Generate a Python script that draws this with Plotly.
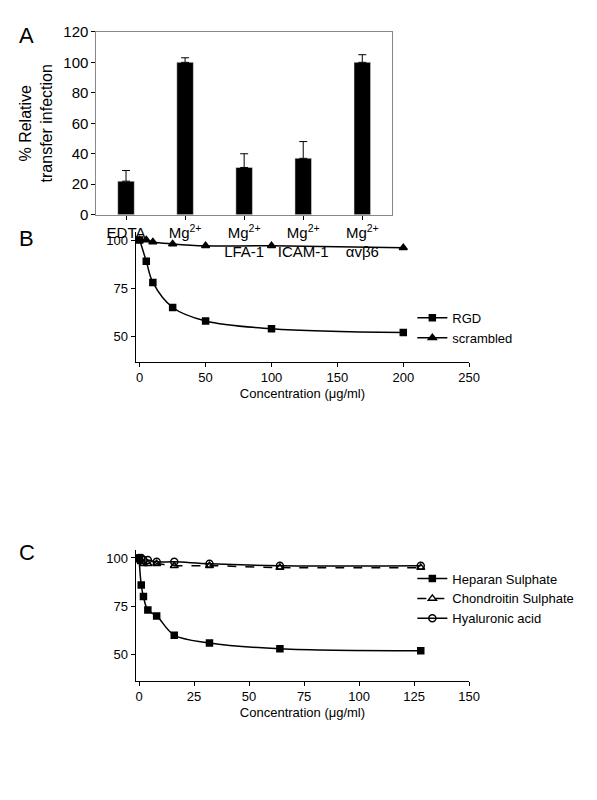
import plotly.graph_objects as go

cats = ["EDTA", "Mg<sup>2+</sup>", "Mg<sup>2+</sup><br>LFA-1", "Mg<sup>2+</sup><br>ICAM-1", "Mg<sup>2+</sup><br>αvβ6"]
bar_vals = [22, 100, 31, 37, 100]
bar_err = [7, 3, 9, 11, 5]

b_x = [0, 5, 10, 25, 50, 100, 200]
rgd = [100, 89, 78, 65, 58, 54, 52]
scr = [100, 100, 99, 98, 97, 97, 96]

c_x = [0, 1, 2, 4, 8, 16, 32, 64, 128]
hep = [100, 86, 80, 73, 70, 60, 56, 53, 52]
chon = [99, 98, 97, 97, 97, 96, 96, 95, 95]
hya = [100, 100, 99, 99, 98, 98, 97, 96, 96]

F = "Liberation Sans, Arial"
fig = go.Figure()
fig.add_trace(go.Bar(x=cats, y=bar_vals, marker_color="black", width=0.28,
                     error_y=dict(type="data", array=bar_err, arrayminus=[0]*5, symmetric=False,
                                  color="black", thickness=1, width=4),
                     showlegend=False, xaxis="x", yaxis="y"))

def addser(x, y, name, sym, ax, ay, leg, dash="solid", size=6):
    fig.add_trace(go.Scatter(x=x, y=y, mode="lines+markers", name=name,
                             line=dict(color="black", width=1.5, shape="spline", dash=dash),
                             marker=dict(symbol=sym, size=size, color="black",
                                         line=dict(color="black", width=1.5)),
                             xaxis=ax, yaxis=ay, legend=leg))

addser(b_x, rgd, "RGD", "square", "x2", "y2", "legend")
addser(b_x, scr, "scrambled", "triangle-up", "x2", "y2", "legend", size=7)
addser(c_x, hep, "Heparan Sulphate", "square", "x3", "y3", "legend2")
addser(c_x, chon, "Chondroitin Sulphate", "triangle-up-open", "x3", "y3", "legend2", dash="dash", size=7)
addser(c_x, hya, "Hyaluronic acid", "circle-open", "x3", "y3", "legend2", size=7)

ax = dict(showline=True, linecolor="black", linewidth=1.2, ticks="outside", ticklen=4,
          tickcolor="black", showgrid=False, zeroline=False, tickfont=dict(size=13, color="black"))
fig.update_layout(
    width=597, height=800, paper_bgcolor="white", plot_bgcolor="rgba(0,0,0,0)",
    margin=dict(l=0, r=0, t=0, b=0), font=dict(family=F, color="black"),
    xaxis=dict(ax, domain=[0.151, 0.655], anchor="y", mirror=True, linecolor="#888",
               tickfont=dict(size=15, color="black"), ticks="outside"),
    yaxis=dict(ax, domain=[0.7475, 0.981], anchor="x", range=[0, 120], dtick=20, mirror=True,
               linecolor="#888", tickfont=dict(size=15, color="black"),
               title=dict(text="% Relative<br>transfer infection", font=dict(size=16), standoff=6)),
    xaxis2=dict(ax, domain=[0.218, 0.787], anchor="y2", range=[-3, 250], tickvals=[0, 50, 100, 150, 200, 250],
                title=dict(text="Concentration (μg/ml)", font=dict(size=13), standoff=4)),
    yaxis2=dict(ax, domain=[0.56, 0.725], anchor="x2", range=[37, 104], tickvals=[50, 75, 100]),
    xaxis3=dict(ax, domain=[0.218, 0.787], anchor="y3", range=[-1.5, 150], tickvals=[0, 25, 50, 75, 100, 125, 150],
                title=dict(text="Concentration (μg/ml)", font=dict(size=13), standoff=4)),
    yaxis3=dict(ax, domain=[0.1525, 0.319], anchor="x3", range=[36.5, 104], tickvals=[50, 75, 100]),
    legend=dict(x=0.69, y=0.635, xanchor="left", yanchor="top", font=dict(size=13), bgcolor="rgba(0,0,0,0)",
                itemwidth=30, tracegroupgap=2),
    legend2=dict(x=0.69, y=0.302, xanchor="left", yanchor="top", font=dict(size=13), bgcolor="rgba(0,0,0,0)",
                 itemwidth=30, tracegroupgap=2),
    annotations=[
        dict(text="A", x=0.015, y=0.995, xref="paper", yref="paper", showarrow=False, font=dict(size=22), xanchor="left", yanchor="top"),
        dict(text="B", x=0.015, y=0.735, xref="paper", yref="paper", showarrow=False, font=dict(size=22), xanchor="left", yanchor="top"),
        dict(text="C", x=0.015, y=0.335, xref="paper", yref="paper", showarrow=False, font=dict(size=22), xanchor="left", yanchor="top"),
    ],
)
fig.write_html("out.html")
